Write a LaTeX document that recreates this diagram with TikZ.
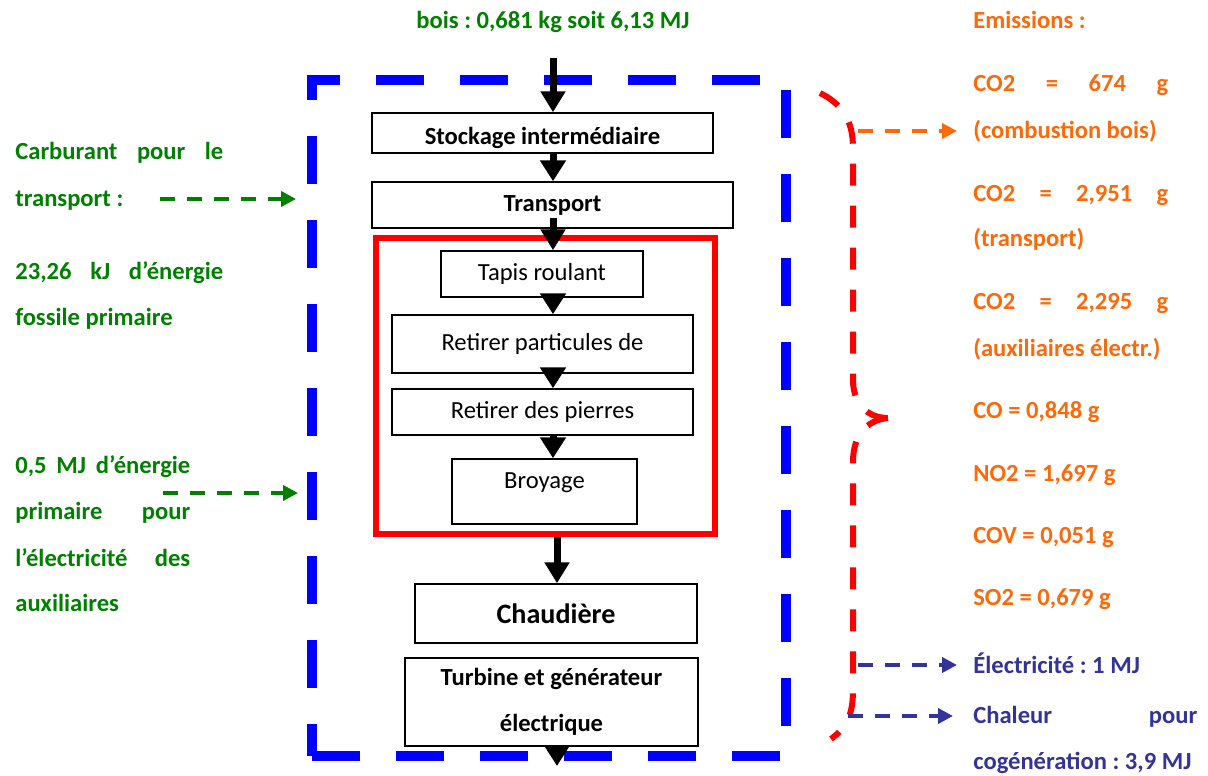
\documentclass[tikz,border=0pt]{standalone}
\usepackage{fontspec}
\setmainfont{Carlito}
\usepackage{xcolor}
\usepackage{tikz}
\usetikzlibrary{arrows.meta}
\definecolor{vertflux}{RGB}{0,128,0}
\definecolor{orangeem}{RGB}{250,105,10}
\definecolor{bleuprod}{RGB}{51,51,153}
\definecolor{bleucadre}{RGB}{0,0,255}
\newcommand{\jline}[2]{\makebox[#1][s]{#2}}
\frenchspacing

\begin{document}
\begin{tikzpicture}[x=0.02cm, y=-0.02cm,
		proc/.style={draw, line width=0.85pt, inner sep=0pt, font=\fontsize{14}{26.2}\selectfont},
		procb/.style={proc, font=\bfseries\fontsize{14}{26.2}\selectfont},
		flux/.style={line width=0.14cm, -{Triangle[width=0.48cm,length=0.42cm]}},
		saut/.style={line width=0.14cm, -{Triangle[width=0.5cm,length=0.42cm]}},
		lg/.style={anchor=base west, inner sep=0pt, font=\bfseries\fontsize{14}{17}\selectfont, text=#1},
		pointille/.style={draw=#1, line width=0.08cm, dash pattern=on 0.3cm off 0.24cm,
			-{Triangle[width=0.3cm,length=0.3cm,fill=#1]}},
		accolade/.style={draw=red, line width=0.12cm, dash pattern=on 0.44cm off 0.4cm}
		]
		\useasboundingbox (0,0) rectangle (1208,776);
		% cadres
		\node[draw=bleucadre, line width=0.2cm, dash pattern=on 0.96cm off 0.72cm,
			minimum width=9.48cm, minimum height=13.52cm, inner sep=0] (systeme) at (549,418) {};
		\node[draw=red, line width=0.12cm, minimum width=6.78cm, minimum height=5.92cm, inner sep=0] (zoneprep) at (545.5,386) {};
		% chaine de traitement
		\node[lg=vertflux, anchor=base] (titre) at (553,29) {bois : 0,681 kg soit 6,13 MJ};
		\node[procb, minimum width=6.82cm, minimum height=0.8cm, text height=0.45cm, text depth=0cm] (stock) at (542.5,133) {Stockage intermédiaire};
		\node[procb, minimum width=7.22cm, minimum height=0.92cm] (transp) at (552.5,205) {Transport};
		\node[proc, minimum width=4.04cm, minimum height=0.92cm] (tapis) at (542,274) {Tapis roulant};
		\node[proc, minimum width=6.02cm, minimum height=1.16cm] (partic) at (542.5,344) {Retirer particules de};
		\node[proc, minimum width=6.02cm, minimum height=0.92cm] (pierres) at (542.5,412) {Retirer des pierres};
		\node[proc, minimum width=3.7cm, minimum height=1.3cm, text height=0.35cm, text depth=0.45cm] (broyage) at (544.5,491.5) {Broyage};
		\node[procb, minimum width=5.64cm, minimum height=1.18cm, font=\bfseries\fontsize{16}{19}\selectfont] (chaud) at (556,613.5) {Chaudière};
		\node[procb, minimum width=5.86cm, minimum height=1.76cm, align=center] (turbine) at (551.5,702) {Turbine et générateur\\électrique};
		\coordinate (entree) at (553,58);
		\coordinate (axe) at (553,0);
		\coordinate (axeb) at (557,0);
		\coordinate (sortie) at (557,766);
		\draw[flux] (entree) to (axe |- stock.north);
		\draw[saut] (axe |- stock.south) to (axe |- transp.north);
		\draw[flux, shorten <=-0.22cm] (axe |- transp.south) to (axe |- tapis.north);
		\draw[saut] (axe |- tapis.south) to (axe |- partic.north);
		\draw[saut] (axe |- partic.south) to (axe |- pierres.north);
		\draw[saut] (axe |- pierres.south) to (axe |- broyage.north);
		\draw[flux] (axeb |- zoneprep.south) to (axeb |- chaud.north);
		\draw[saut, shorten <=-0.16cm] (axeb |- turbine.south) to (sortie);
		% entrees
		\node[lg=vertflux] (carb1) at (15,160) {\jline{4.16cm}{Carburant pour le}};
		\node[lg=vertflux] (carb2) at (15,207) {transport :};
		\node[lg=vertflux] (fos1) at (15,280) {\jline{4.16cm}{23,26 kJ d’énergie}};
		\node[lg=vertflux] (fos2) at (15,326) {fossile primaire};
		\node[lg=vertflux] (aux1) at (15,474) {\jline{3.5cm}{0,5 MJ d’énergie}};
		\node[lg=vertflux] (aux2) at (15,520) {\jline{3.5cm}{primaire pour}};
		\node[lg=vertflux] (aux3) at (15,567) {\jline{3.5cm}{l’électricité des}};
		\node[lg=vertflux] (aux4) at (15,612) {auxiliaires};
		\coordinate (gA) at (160,199);
		\coordinate (gB) at (163,493);
		\draw[pointille=vertflux, shorten >=0.22cm] (gA) to (gA -| systeme.west);
		\draw[pointille=vertflux, shorten >=0.18cm] (gB) to (gB -| systeme.west);
		% sorties
		\node[lg=orangeem] (emis) at (973,29) {Emissions :};
		\node[lg=orangeem] (co2a) at (973,92) {\jline{3.9cm}{CO2 = 674 g}};
		\node[lg=orangeem] (comb) at (973,139) {(combustion bois)};
		\node[lg=orangeem] (co2b) at (973,202) {\jline{3.9cm}{CO2 = 2,951 g}};
		\node[lg=orangeem] (co2bt) at (973,247) {(transport)};
		\node[lg=orangeem] (co2c) at (973,310) {\jline{3.9cm}{CO2 = 2,295 g}};
		\node[lg=orangeem] (co2ca) at (973,357) {(auxiliaires électr.)};
		\node[lg=orangeem] (co) at (973,419) {CO = 0,848 g};
		\node[lg=orangeem] (no2) at (973,482) {NO2 = 1,697 g};
		\node[lg=orangeem] (cov) at (973,544) {COV = 0,051 g};
		\node[lg=orangeem] (so2) at (973,606) {SO2 = 0,679 g};
		\node[lg=bleuprod] (elec) at (973,674) {Électricité : 1 MJ};
		\node[lg=bleuprod] (chal1) at (973,724) {\jline{4.48cm}{Chaleur pour}};
		\node[lg=bleuprod] (chal2) at (973,770) {cogénération : 3,9 MJ};
		% accolade
		\draw[accolade] (820,93) .. controls (842,104) and (853,120) .. (853,148) -- (853,380)
			.. controls (853,402) and (866,418) .. (888,418);
		\draw[accolade] (888,418) .. controls (866,420) and (853,436) .. (853,462) -- (853,690)
			.. controls (853,716) and (846,728) .. (831,739);
		\coordinate (accA) at (858,131);
		\coordinate (accB) at (858,665);
		\coordinate (accC) at (848,716);
		\draw[pointille=orangeem, shorten >=0.32cm] (accA) to (accA -| comb.west);
		\draw[pointille=bleuprod, shorten >=0.32cm] (accB) to (accB -| elec.west);
		\draw[pointille=bleuprod, shorten >=0.4cm] (accC) to (accC -| chal1.west);
\end{tikzpicture}
\end{document}
